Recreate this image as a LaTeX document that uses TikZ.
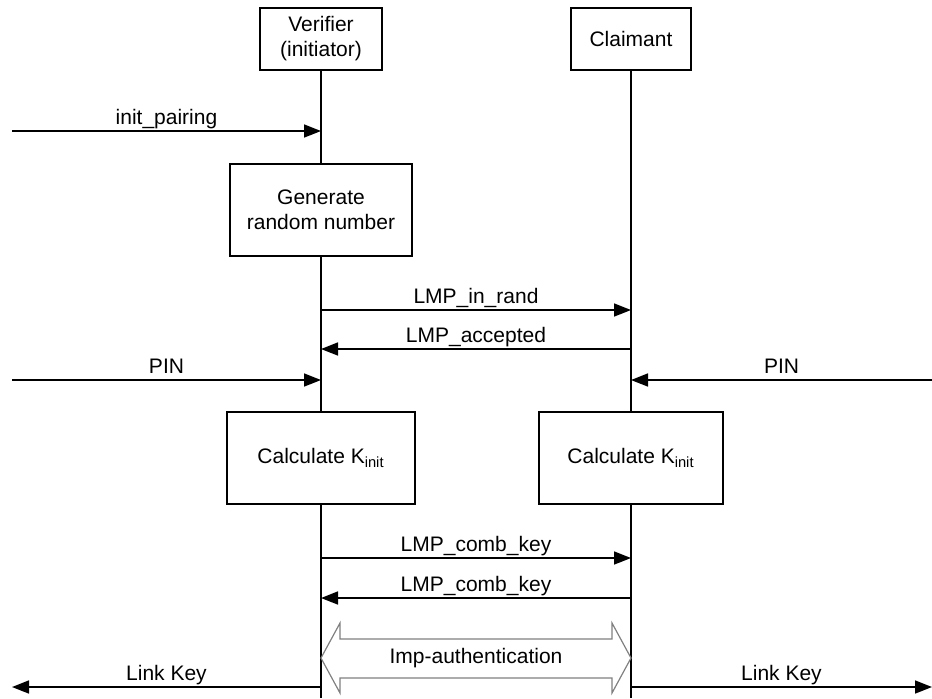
\documentclass[tikz,border=0pt]{standalone}
\usepackage{fontspec}
\setmainfont{Liberation Sans}
\usetikzlibrary{arrows.meta}
\tikzset{
  box/.style={draw, line width=1pt, fill=white, align=center, inner sep=0pt},
  life/.style={line width=1pt},
  msg/.style={line width=0.8pt, -{Triangle[length=8.5pt,width=6.5pt]}},
  lbl/.style={anchor=base, inner sep=0pt, yshift=3.5pt}
}
\begin{document}
\begin{tikzpicture}[x=0.5pt, y=-0.5pt, font=\fontsize{10.5}{12.5}\selectfont]
\useasboundingbox (0,0) rectangle (932,698);
% Lifeline heads
\node[box, minimum width=61pt, minimum height=31pt] (ver) at (321,39) {Verifier\\(initiator)};
\node[box, minimum width=60pt, minimum height=31pt] (cla) at (631,39) {Claimant};
% Boxes on the lifelines
\node[box, minimum width=91pt, minimum height=46pt] (gen) at (321,210) {Generate\\random number};
\node[box, minimum width=94pt, minimum height=46pt] (calcv) at (321,458) {Calculate K\textsubscript{init}};
\node[box, minimum width=92pt, minimum height=46pt] (calcc) at (631,458) {Calculate K\textsubscript{init}};
\coordinate (vend) at (321,698);
\coordinate (cend) at (631,698);
% Draw lifelines
\draw[life] (ver.south) -- (gen.north);
\draw[life] (gen.south) -- (calcv.north);
\draw[life] (calcv.south) -- (vend);
\draw[life] (cla.south) -- (calcc.north);
\draw[life] (calcc.south) -- (cend);
% Points on the lifelines
\coordinate (v1) at (321,131);
\coordinate (v2) at (321,310);
\coordinate (c2) at (631,310);
\coordinate (v3) at (321,349);
\coordinate (c3) at (631,349);
\coordinate (v4) at (321,380);
\coordinate (c4) at (631,380);
\coordinate (v5) at (321,558);
\coordinate (c5) at (631,558);
\coordinate (v6) at (321,598);
\coordinate (c6) at (631,598);
\coordinate (v7) at (321,687);
\coordinate (c7) at (631,687);
% Outer ends
\coordinate (in1) at (12,131);
\coordinate (pinl) at (12,380);
\coordinate (pinr) at (932,380);
\coordinate (keyl) at (12,687);
\coordinate (keyr) at (932,687);
% Draw messages
\draw[msg] (in1) -- node[lbl] {init\_pairing} (v1);
\draw[msg] (v2) -- node[lbl] {LMP\_in\_rand} (c2);
\draw[msg] (c3) -- node[lbl] {LMP\_accepted} (v3);
\draw[msg] (pinl) -- node[lbl] {PIN} (v4);
\draw[msg] (pinr) -- node[lbl] {PIN} (c4);
\draw[msg] (v5) -- node[lbl] {LMP\_comb\_key} (c5);
\draw[msg] (c6) -- node[lbl] {LMP\_comb\_key} (v6);
\draw[msg] (v7) -- node[lbl] {Link Key} (keyl);
\draw[msg] (c7) -- node[lbl] {Link Key} (keyr);
% Hollow double arrow
\draw[gray, line width=0.6pt] (321,658) -- (340,623) -- (340,639) -- (612,639) -- (612,623)
  -- (631,658) -- (612,693) -- (612,678) -- (340,678) -- (340,693) -- cycle;
\node (imp) at (476,658) {Imp-authentication};
\end{tikzpicture}
\end{document}
